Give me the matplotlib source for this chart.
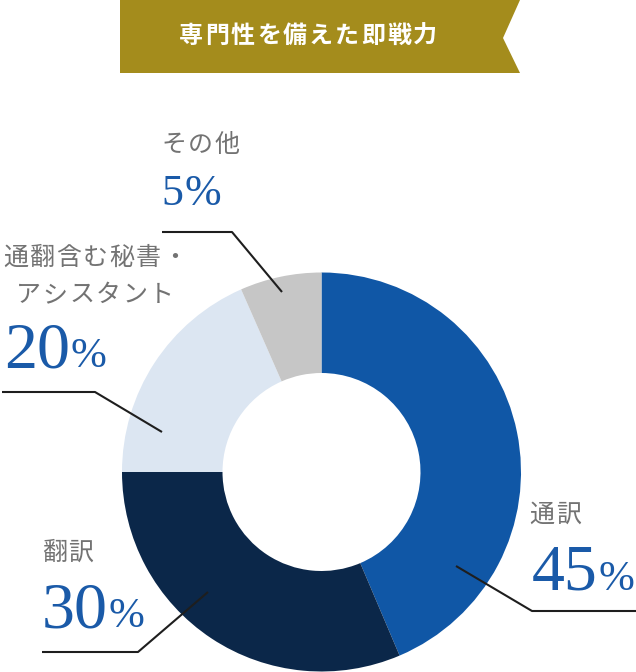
import numpy as np
import matplotlib.pyplot as plt
from matplotlib.patches import Polygon

W, H = 636, 672
JP = ["Noto Sans CJK JP", "DejaVu Sans"]
SERIF = ["Liberation Serif", "DejaVu Serif"]

# --- data ---
title = "専門性を備えた即戦力"
categories = ["通訳", "翻訳", "通翻含む秘書・\nアシスタント", "その他"]
pct_labels = ["45", "30", "20", "5"]
# wedge sizes as drawn in the picture (measured angles, %)
shares = [43.6, 31.4, 18.4, 6.6]
colors = ["#1057a6", "#0b2749", "#dce6f2", "#c6c6c6"]

# --- layout (image pixel coords, y down) ---
label_pos = [(530, 515), (42, 553), (2, 258), (162, 145)]
pct_pos = [(532, 590), (42, 627), (4, 367), (161, 205)]
pct_big = [True, True, True, False]
leaders = [
    [(456, 566), (532, 611), (636, 611)],
    [(208, 592), (138, 652), (42, 652)],
    [(162, 432), (95, 392), (2, 392)],
    [(282, 292), (232, 232), (162, 232)],
]

BLUE_TXT = "#1a5aa8"
GRAY_TXT = "#737373"
GOLD = "#a48c1c"


def Y(y):
    return H - y


def px2pt(px):
    return px * 0.72


def spaced(ax, x, y, s, size_px, adv, color, weight="normal", center=False):
    x0 = x - len(s) * adv / 2 if center else x - 1
    for i, ch in enumerate(s):
        ax.text(x0 + (i + 0.5) * adv, Y(y), ch, ha="center", va="center",
                fontsize=px2pt(size_px), color=color, fontweight=weight,
                family=JP)


fig = plt.figure(figsize=(W / 100, H / 100), dpi=100)
ax = fig.add_axes([0, 0, 1, 1])

ax.pie(shares, colors=colors, startangle=90, counterclock=False,
       radius=199.5, center=(321.5, Y(472)),
       wedgeprops=dict(width=100.5, linewidth=0))
ax.set_xlim(0, W)
ax.set_ylim(0, H)
ax.set_aspect("equal")
ax.axis("off")

# banner
banner = Polygon([(120, Y(0)), (520, Y(0)), (503, Y(38)), (520, Y(73)),
                  (120, Y(73))], closed=True, facecolor=GOLD, edgecolor="none")
ax.add_patch(banner)
spaced(ax, 308, 36, title, 24, 26, "white", weight="bold", center=True)

# category labels
for (lx, ly), name in zip(label_pos, categories):
    lines = name.split("\n")
    if len(lines) == 1:
        spaced(ax, lx, ly, name, 25, 26.5, GRAY_TXT)
    else:
        # two centered lines
        cx = lx + len(lines[0]) * 26.5 / 2
        for k, ln in enumerate(lines):
            spaced(ax, cx, ly + k * 37, ln, 25, 26.5, GRAY_TXT, center=True)

# percentages
for (px, py), val, big in zip(pct_pos, pct_labels, pct_big):
    dig_em = 66 if big else 44
    pc_em = 43 if big else 44
    ax.text(px, Y(py), val, ha="left", va="baseline", fontsize=px2pt(dig_em),
            color=BLUE_TXT, family=SERIF)
    ax.text(px + len(val) * dig_em * 0.5 + 1, Y(py), "%", ha="left",
            va="baseline", fontsize=px2pt(pc_em), color=BLUE_TXT, family=SERIF)

# leader lines
for pts in leaders:
    xs = [p[0] for p in pts]
    ys = [Y(p[1]) for p in pts]
    ax.plot(xs, ys, color="#1e1e1e", lw=1.5, solid_capstyle="butt", zorder=5)

fig.savefig("out.png", dpi=100)
